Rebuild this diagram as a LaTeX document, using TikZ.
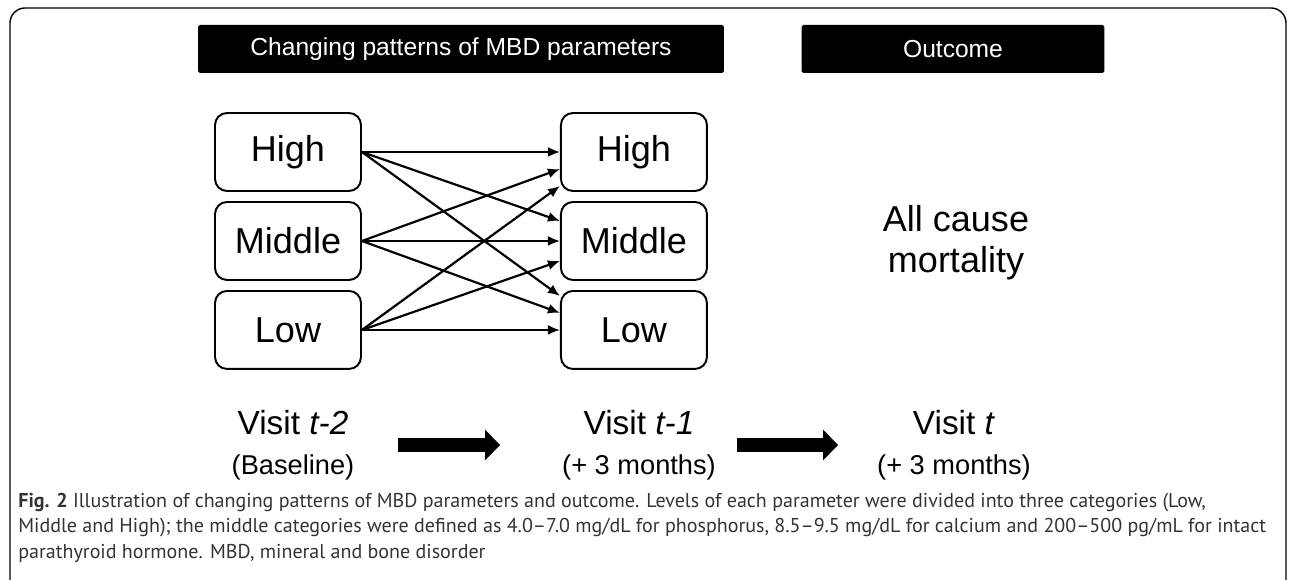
\documentclass[tikz,border=0pt]{standalone}
\usepackage{fontspec}
\setmainfont{Liberation Sans}
\newfontfamily\capfont{PT Sans}
\usepackage{tikz}
\usetikzlibrary{arrows.meta, positioning, calc}
\tikzstyle{level} = [rectangle, rounded corners=0.24cm, minimum width=2.92cm, minimum height=1.56cm, text centered, draw=black, line width=1.1pt, font=\fontsize{20.5}{24}\selectfont]
\tikzstyle{header} = [rectangle, rounded corners=1pt, minimum height=0.96cm, fill=black, text=white, font=\fontsize{14}{16}\selectfont]
\tikzstyle{visit} = [align=center, font=\fontsize{15.5}{23}\selectfont]
\tikzstyle{caption} = [anchor=west, inner sep=0pt, text=black!80, font=\capfont\fontsize{11.4}{14}\selectfont]
\tikzstyle{link} = [-{Latex[length=2.4mm, width=2mm]}, line width=1.25pt]
\tikzstyle{bigarrow} = [line width=0.3cm, -{Triangle[length=0.3cm, width=0.6cm]}]

\begin{document}
\begin{tikzpicture}[x=0.02cm, y=-0.02cm, node distance=1.78cm]
\clip (0,0) rectangle (1290,580);
\draw[line width=0.8pt, rounded corners=0.3cm] (10,8) rectangle (1286,600);
\node (pattern) [header, minimum width=10.52cm] at (461,49) {Changing patterns of MBD parameters};
\node (outcome) [header, minimum width=6.06cm] at (953,49) {Outcome};
\node (hl) [level] at (288,152) {High};
\node (ml) [level, below of=hl] {Middle};
\node (ll) [level, below of=ml] {Low};
\node (hr) [level, right of=hl, xshift=5.14cm] {High};
\node (mr) [level, below of=hr] {Middle};
\node (lr) [level, below of=mr] {Low};
\node (mort) [align=center, font=\fontsize{20.5}{23.2}\selectfont] at (956,243) {All cause\\mortality};
\node (v1) [visit] at (293,445) {{\fontsize{19}{23}\selectfont Visit \textit{t-2}}\\(Baseline)};
\node (v2) [visit] at (639,445) {{\fontsize{19}{23}\selectfont Visit \textit{t-1}}\\(+ 3 months)};
\node (v3) [visit] at (954,445) {{\fontsize{19}{23}\selectfont Visit \textit{t}}\\(+ 3 months)};
\node (cap1) [caption] at (18,503) {\textbf{Fig. 2} Illustration of changing patterns of MBD parameters and outcome. Levels of each parameter were divided into three categories (Low,};
\node (cap2) [caption] at (18,528) {Middle and High); the middle categories were defined as 4.0–7.0 mg/dL for phosphorus, 8.5–9.5 mg/dL for calcium and 200–500 pg/mL for intact};
\node (cap3) [caption] at (18,553) {parathyroid hormone. MBD, mineral and bone disorder};
\draw[link] (hl.east) -- (hr.west);
\draw[link] (hl.east) -- ([yshift=0.4cm]mr.west);
\draw[link] (hl.east) -- ([yshift=0.68cm]lr.west);
\draw[link] (ml.east) -- ([yshift=-0.34cm]hr.west);
\draw[link] (ml.east) -- (mr.west);
\draw[link] (ml.east) -- ([yshift=0.34cm]lr.west);
\draw[link] (ll.east) -- ([yshift=-0.68cm]hr.west);
\draw[link] (ll.east) -- ([yshift=-0.4cm]mr.west);
\draw[link] (ll.east) -- (lr.west);
\draw[bigarrow, shorten <=2.1cm, shorten >=2.78cm] (v1.center) -- (v2.center);
\draw[bigarrow, shorten <=1.96cm, shorten >=2.32cm] (v2.center) -- (v3.center);
\end{tikzpicture}
\end{document}
